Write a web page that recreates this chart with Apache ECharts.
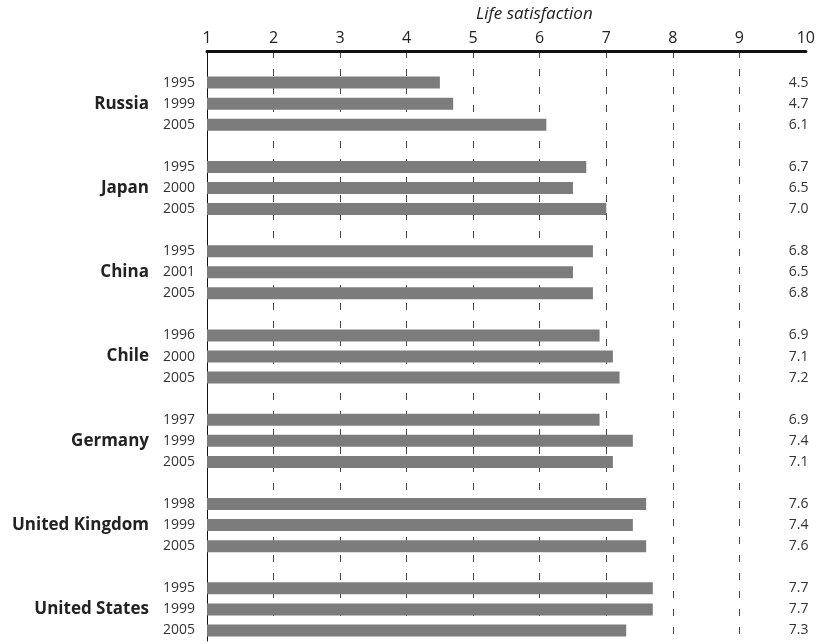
<!DOCTYPE html>
<html>
<head>
<meta charset="utf-8">
<script src="https://cdn.jsdelivr.net/npm/echarts@6/dist/echarts.min.js"></script>
<style>
html,body{margin:0;padding:0;background:#fff;}
#chart{width:818px;height:644px;}
</style>
</head>
<body>
<div id="chart"></div>
<script>
const countries = ['Russia', 'Japan', 'China', 'Chile', 'Germany', 'United Kingdom', 'United States'];
const years = [
  ['1995', '1999', '2005'],
  ['1995', '2000', '2005'],
  ['1995', '2001', '2005'],
  ['1996', '2000', '2005'],
  ['1997', '1999', '2005'],
  ['1998', '1999', '2005'],
  ['1995', '1999', '2005']
];
const values = [
  [4.5, 4.7, 6.1],
  [6.7, 6.5, 7.0],
  [6.8, 6.5, 6.8],
  [6.9, 7.1, 7.2],
  [6.9, 7.4, 7.1],
  [7.6, 7.4, 7.6],
  [7.7, 7.7, 7.3]
];
const xTicks = [1, 2, 3, 4, 5, 6, 7, 8, 9, 10];
const axisTitle = 'Life satisfaction';

// build rows (blank spacer rows between groups)
const cats = [], rowVals = [], leftLabels = [], rightLabels = [];
function addBlank(i) { cats.push('blank' + i); rowVals.push(null); leftLabels.push(''); rightLabels.push(''); }
addBlank(0);
countries.forEach((c, gi) => {
  years[gi].forEach((y, j) => {
    cats.push(c + '|' + y);
    rowVals.push(values[gi][j]);
    leftLabels.push(j === 1 ? '{c|' + c + '}{y|' + y + '}' : '{y|' + y + '}');
    rightLabels.push(values[gi][j].toFixed(1));
  });
  if (gi < countries.length - 1) addBlank(gi + 1);
});

const FONT = '"Open Sans", "Noto Sans", sans-serif';
const chart = echarts.init(document.getElementById('chart'), null, {renderer: 'canvas'});
chart.setOption({
  backgroundColor: '#fff',
  animation: false,
  title: {
    text: axisTitle,
    left: 471, top: 1,
    textStyle: {fontFamily: FONT, fontStyle: 'italic', fontWeight: 'normal', fontSize: 17, color: '#222'}
  },
  grid: {left: 207, right: 8, top: 51, bottom: 3, containLabel: false},
  xAxis: {
    type: 'value', position: 'top', min: 1, max: 10, interval: 1,
    axisLine: {show: true, onZero: false, lineStyle: {color: '#111', width: 3}},
    axisTick: {show: false},
    axisLabel: {
      margin: 5, fontFamily: FONT, fontSize: 16, color: '#222',
      formatter: v => xTicks.includes(v) ? String(v) : ''
    },
    splitLine: {show: true, lineStyle: {
      color: ['rgba(0,0,0,0)', '#444', '#444', '#444', '#444', '#444', '#444', '#444', '#444', 'rgba(0,0,0,0)'],
      width: 1, type: [7, 11]
    }}
  },
  yAxis: [{
    type: 'category', data: cats, inverse: true,
    axisLine: {show: true, lineStyle: {color: '#111', width: 1}},
    axisTick: {show: false},
    axisLabel: {
      interval: 0, margin: 12, align: 'right',
      formatter: (v, i) => leftLabels[i],
      rich: {
        c: {fontFamily: FONT, fontWeight: 'bold', fontSize: 17, color: '#222', padding: [0, 14, 0, 0]},
        y: {fontFamily: FONT, fontSize: 14, color: '#333'}
      }
    },
    splitLine: {show: false}
  }, {
    type: 'category', data: cats, inverse: true, position: 'right',
    axisLine: {show: false}, axisTick: {show: false},
    axisLabel: {
      inside: true, interval: 0, margin: 17, align: 'left',
      fontFamily: FONT, fontSize: 14, color: '#333',
      formatter: (v, i) => rightLabels[i]
    },
    splitLine: {show: false}
  }],
  series: [{
    type: 'bar', data: rowVals, barWidth: 12,
    itemStyle: {color: '#7c7c7c'},
    clip: true, silent: true
  }]
});
</script>
</body>
</html>
